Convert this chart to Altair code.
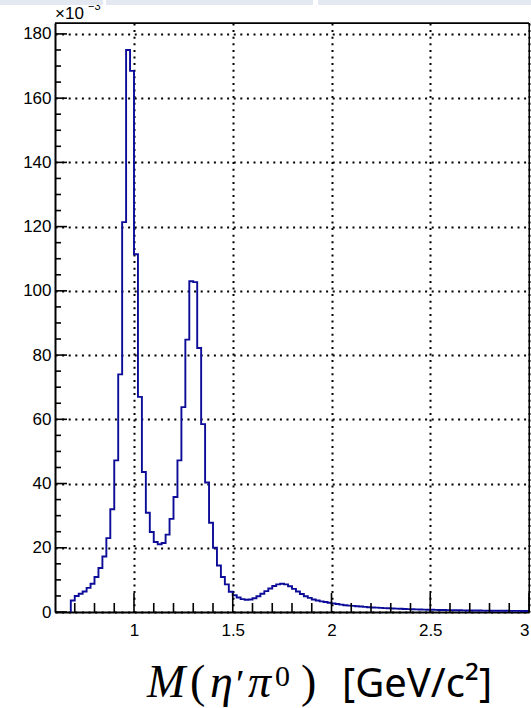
import altair as alt
import pandas as pd

# ---------------- data (values in units of 1e-3) ----------------
BIN_LO = 0.68
BIN_W = 0.02
counts = [
    3.6, 5.0, 5.7, 6.4, 7.5, 8.8, 10.9, 13.7, 17.3, 23.0,
    32.0, 47.2, 74.0, 121.4, 175.0, 168.5, 111.4, 67.0, 43.6, 30.9,
    24.9, 21.8, 21.1, 21.5, 24.1, 29.0, 35.8, 47.2, 63.8, 84.8,
    103.0, 102.7, 82.2, 58.5, 40.3, 27.8, 20.0, 14.5, 10.9, 8.6,
    6.3, 5.2, 4.5, 4.0, 3.8, 3.9, 4.3, 4.9, 5.7, 6.5,
    7.3, 8.1, 8.6, 8.8, 8.6, 8.0, 7.2, 6.4, 5.6, 4.9,
    4.4, 3.9, 3.6, 3.3, 3.1, 2.9, 2.7, 2.5, 2.3, 2.1,
    2.0, 1.9, 1.8, 1.7, 1.6, 1.5, 1.4, 1.35, 1.3, 1.22,
    1.15, 1.1, 1.05, 1.0, 0.95, 0.9, 0.86, 0.82, 0.78, 0.75,
    0.72, 0.69, 0.66, 0.63, 0.61, 0.59, 0.57, 0.55, 0.53, 0.51,
    0.49, 0.47, 0.46, 0.45, 0.43, 0.42, 0.41, 0.40, 0.39, 0.38,
    0.37, 0.36, 0.35, 0.34, 0.33, 0.33,
]
x_major = [1.0, 1.5, 2.0, 2.5, 3.0]
x_minor = [0.7, 0.8, 0.9, 1.1, 1.2, 1.3, 1.4, 1.6, 1.7, 1.8, 1.9,
           2.1, 2.2, 2.3, 2.4, 2.6, 2.7, 2.8, 2.9]
y_major = [0, 20, 40, 60, 80, 100, 120, 140, 160, 180]
y_minor = [5, 10, 15, 25, 30, 35, 45, 50, 55, 65, 70, 75, 85, 90, 95,
           105, 110, 115, 125, 130, 135, 145, 150, 155, 165, 170, 175]
X_DOMAIN = [0.6, 3.0]
Y_DOMAIN = [0, 183.4]

# ---------------- layout ----------------
W, H = 474, 589
PAD = {"left": 55, "top": 23, "right": 2, "bottom": 96}
LINE_COLOR = "#0c0c98"

edges = [round(BIN_LO + i * BIN_W, 4) for i in range(len(counts) + 1)]
hx = [edges[0]] + edges[:-1] + [edges[-1]]
hy = [0.0] + counts + [counts[-1]]
hist_df = pd.DataFrame({"x": hx, "y": hy, "i": list(range(len(hx)))})

xs = alt.Scale(domain=X_DOMAIN, nice=False, zero=False)
ys = alt.Scale(domain=Y_DOMAIN, nice=False, zero=False)

axis_common = dict(
    domain=True, domainColor="black", domainWidth=2,
    ticks=False, tickSize=0,
    grid=True, gridColor="black", gridDash=[2, 4.6], gridWidth=2, gridOpacity=1,
    labelFont="Liberation Sans", labelFontSize=17, labelColor="black",
    title=None,
)
X_AXIS = alt.Axis(values=x_major, format="~g", labelPadding=10, **axis_common)
Y_AXIS = alt.Axis(values=y_major, format="d", labelPadding=4, **axis_common)

hist = alt.Chart(hist_df).mark_line(
    interpolate="step-after", color=LINE_COLOR, strokeWidth=1.9
).encode(
    x=alt.X("x:Q", scale=xs, axis=X_AXIS),
    y=alt.Y("y:Q", scale=ys, axis=Y_AXIS),
    order="i:Q",
)

def xticks(vals, length):
    return alt.Chart(pd.DataFrame({"x": vals})).mark_rule(
        color="black", strokeWidth=1.6
    ).encode(x=alt.X("x:Q", scale=xs, axis=X_AXIS), y=alt.value(H), y2=alt.value(H - length))

def yticks(vals, length):
    return alt.Chart(pd.DataFrame({"y": vals})).mark_rule(
        color="black", strokeWidth=1.6
    ).encode(y=alt.Y("y:Q", scale=ys, axis=Y_AXIS), x=alt.value(0), x2=alt.value(length))

def label(txt, x, y, size, font, style="normal", align="left"):
    return alt.Chart(pd.DataFrame({"t": [txt]})).mark_text(
        font=font, fontSize=size, fontStyle=style, align=align,
        baseline="alphabetic", color="black"
    ).encode(text="t:N", x=alt.value(x), y=alt.value(y))

def band(x0, x1):
    return alt.Chart(pd.DataFrame({"t": [0]})).mark_rect(color="#e4e9f1").encode(
        x=alt.value(x0), x2=alt.value(x1), y=alt.value(-23), y2=alt.value(-18)
    )

def frame_line(x0, x1, y0, y1, w):
    return alt.Chart(pd.DataFrame({"t": [0]})).mark_rule(color="black", strokeWidth=w).encode(
        x=alt.value(x0), x2=alt.value(x1), y=alt.value(y0), y2=alt.value(y1)
    )

serif = "Liberation Serif"
TB = 674  # title baseline (plot coords)
title_layers = [
    label("M", 92, TB, 46, serif, "italic"),
    label("(", 135, TB, 46, serif),
    label("η", 155, TB, 46, serif, "italic"),
    label("′", 181, TB, 40, serif),
    label("π", 193, TB, 46, serif, "italic"),
    label("0", 220, TB - 11, 30, serif),
    label(")", 246, TB, 46, serif),
    label("[GeV/c²]", 287, TB, 40, "Noto Sans"),
]

chart = alt.layer(
    hist,
    xticks(x_major, 19), xticks(x_minor, 9),
    yticks(y_major, 12), yticks(y_minor, 6),
    frame_line(0, W, 0, 0, 1.3),
    frame_line(W, W, 0, H, 1.0),
    label("×10", 0, -4, 17, "Liberation Sans"),
    label("−3", 33, -13, 11, "Liberation Sans"),
    band(-55, 48), band(51, 258), band(263, 478),
    *title_layers,
).properties(
    width=W, height=H,
    autosize=alt.AutoSizeParams(type="none"),
    padding=PAD,
).configure_view(
    stroke="black", strokeWidth=1
)

chart.save("out.html", embed_options={"renderer": "svg", "actions": False})
